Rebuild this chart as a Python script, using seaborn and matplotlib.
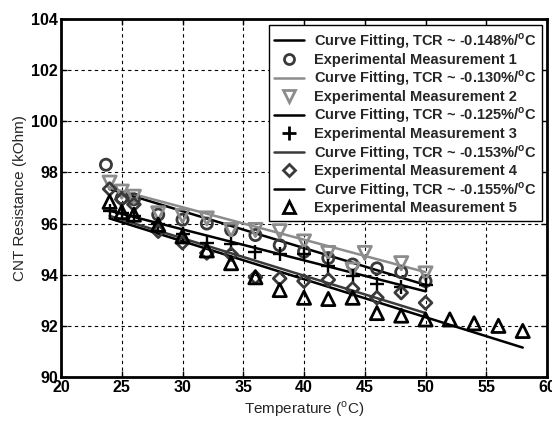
import numpy as np
import pandas as pd
import matplotlib
matplotlib.use("Agg")
import matplotlib.pyplot as plt
from matplotlib.lines import Line2D
import seaborn as sns

# ---------------- data ----------------
T1 = [23.7, 25, 26, 28, 30, 32, 34, 36, 38, 40, 42, 44, 46, 48, 50]
R1 = [98.3, 97.0, 96.95, 96.35, 96.15, 96.0, 95.75, 95.55, 95.15, 94.9, 94.65, 94.4, 94.25, 94.1, 93.75]

T2 = [24, 25, 26, 28, 30, 32, 34, 36, 38, 40, 42, 44, 45, 48, 50]
R2 = [97.6, 97.25, 97.05, 96.4, 96.3, 96.2, 95.75, 95.75, 95.7, 95.3, 94.85, 94.2, 94.85, 94.45, 94.05]

T3 = [24, 25, 26, 28, 30, 32, 34, 36, 38, 40, 42, 44, 46, 48, 50]
R3 = [96.5, 96.4, 96.3, 96.0, 95.6, 95.25, 95.2, 94.9, 94.8, 94.8, 94.35, 93.95, 93.65, 93.5, 93.6]

T4 = [24, 25, 26, 28, 30, 32, 34, 36, 38, 40, 42, 44, 46, 48, 50]
R4 = [97.35, 96.95, 96.75, 95.7, 95.25, 94.85, 94.8, 93.9, 93.85, 93.75, 93.8, 93.45, 93.1, 93.3, 92.9]

T5 = [24, 25, 26, 28, 30, 32, 34, 36, 38, 40, 42, 44, 46, 48, 50, 52, 54, 56, 58]
R5 = [96.85, 96.45, 96.35, 95.95, 95.5, 94.95, 94.45, 93.9, 93.4, 93.1, 93.05, 93.1, 92.5, 92.4, 92.25, 92.25, 92.1, 92.0, 91.8]

# fitted curves (start / end of each fit)
fit_T_start = [24, 24, 24, 24, 24]
fit_T_end = [50, 50, 50, 50, 58]
fit_R_start = [97.35, 97.4, 96.5, 96.3, 96.2]
fit_R_end = [93.6, 94.1, 93.35, 92.5, 91.15]
tcr_labels = ["-0.148", "-0.130", "-0.125", "-0.153", "-0.155"]

x_ticks = [20, 25, 30, 35, 40, 45, 50, 55, 60]
y_ticks = [90, 92, 94, 96, 98, 100, 102, 104]

# ---------------- styles ----------------
line_colors = ["#000000", "#8c8c8c", "#000000", "#3a3a3a", "#000000"]
mk_colors = ["#3a3a3a", "#8c8c8c", "#000000", "#3a3a3a", "#000000"]
mk_shapes = ["o", "v", "+", "D", "^"]
mk_sizes = [8, 9.5, 10.5, 6.5, 9.5]

sns.set_theme(style="white")
plt.rcParams["font.family"] = ["Liberation Sans", "DejaVu Sans"]
plt.rcParams["mathtext.fontset"] = "custom"
plt.rcParams["mathtext.rm"] = "Liberation Sans"
plt.rcParams["mathtext.bf"] = "Liberation Sans:bold"

fig = plt.figure(figsize=(5.52, 4.21), dpi=100)
ax = fig.add_axes([0.1105, 0.1045, 0.8805, 0.8505])

Ts = [T1, T2, T3, T4, T5]
Rs = [R1, R2, R3, R4, R5]

handles, labels = [], []
for i in range(5):
    fit_df = pd.DataFrame({"T": [fit_T_start[i], fit_T_end[i]],
                           "R": [fit_R_start[i], fit_R_end[i]]})
    sns.lineplot(data=fit_df, x="T", y="R", ax=ax, color=line_colors[i],
                 linewidth=1.8, zorder=3)
    df = pd.DataFrame({"T": Ts[i], "R": Rs[i]})
    if mk_shapes[i] == "+":
        sns.scatterplot(data=df, x="T", y="R", ax=ax, marker="+",
                        color=mk_colors[i], s=mk_sizes[i] ** 2,
                        linewidth=1.7, zorder=4)
    else:
        sns.scatterplot(data=df, x="T", y="R", ax=ax, marker=mk_shapes[i],
                        facecolor="none", edgecolor=mk_colors[i],
                        s=mk_sizes[i] ** 2, linewidth=2.0, zorder=4)
    handles.append(Line2D([], [], color=line_colors[i], lw=1.8))
    labels.append("Curve Fitting, TCR ~ " + tcr_labels[i] + r"%/$^{\mathbf{o}}$C")
    handles.append(Line2D([], [], ls="none", marker=mk_shapes[i],
                          markerfacecolor="none", markeredgecolor=mk_colors[i],
                          color=mk_colors[i],
                          markersize=mk_sizes[i] * 0.9, markeredgewidth=2.0))
    labels.append("Experimental Measurement %d" % (i + 1))

ax.set_xlim(20, 60)
ax.set_ylim(90, 104)
ax.set_xticks(x_ticks)
ax.set_yticks(y_ticks)
ax.set_xticklabels([str(v) for v in x_ticks], fontsize=11.5, fontweight="bold")
ax.set_yticklabels([str(v) for v in y_ticks], fontsize=11.5, fontweight="bold")
ax.tick_params(direction="in", length=4, width=1, top=True, right=True,
               bottom=True, left=True, pad=2, colors="black")
ax.grid(True, color="black", linestyle=(0, (3, 3)), linewidth=0.8)
for sp in ax.spines.values():
    sp.set_linewidth(2)
    sp.set_color("black")

ax.set_xlabel(r"Temperature ($^{\rm o}$C)", fontsize=11, labelpad=3)
ax.set_ylabel("CNT Resistance (kOhm)", fontsize=11, labelpad=3)

leg = ax.legend(handles, labels, loc="upper right", bbox_to_anchor=(0.99, 0.982),
                borderaxespad=0, frameon=True, fancybox=False, framealpha=1,
                edgecolor="black", handlelength=2.0, handletextpad=0.7,
                labelspacing=0.12, borderpad=0.4,
                prop={"weight": "bold", "size": 10.5})
leg.get_frame().set_linewidth(1.0)

fig.savefig("out.png", dpi=100)
